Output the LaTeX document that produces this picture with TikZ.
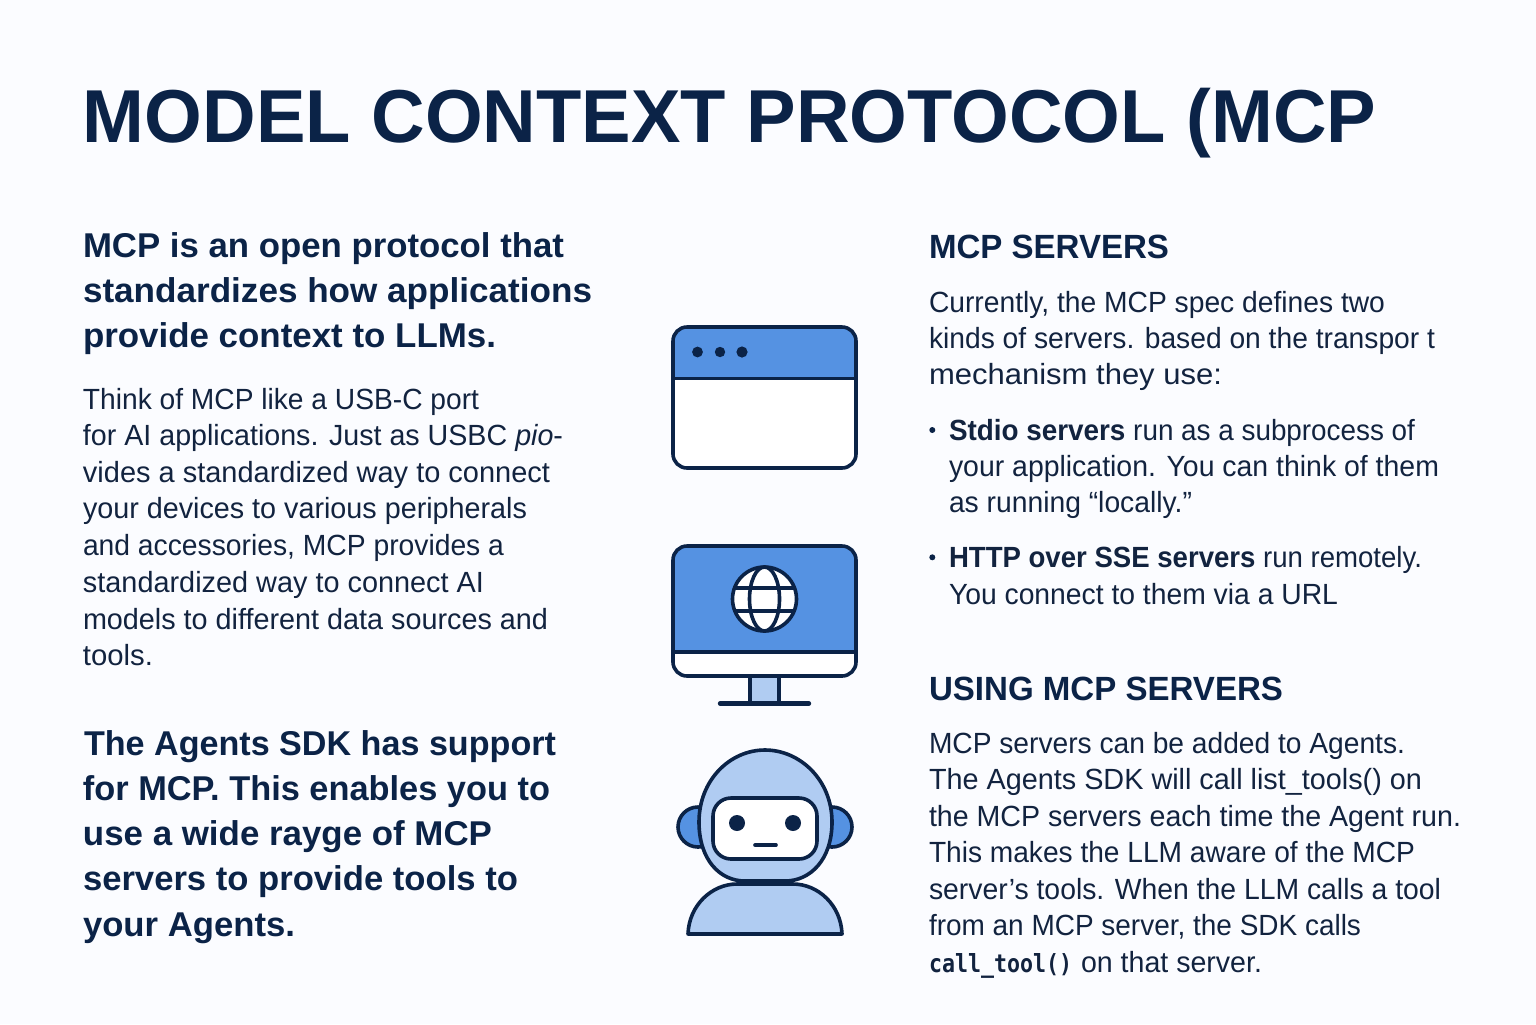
\documentclass[tikz,border=0pt]{standalone}
\usepackage{fontspec}
\usepackage{graphicx}
\setmainfont{Liberation Sans}
\newfontfamily\codefont{DejaVu Sans Mono}
\definecolor{ink}{HTML}{0B2347}
\definecolor{bodyink}{HTML}{12233F}
\definecolor{paper}{HTML}{FBFCFF}
\definecolor{midblue}{HTML}{5592E2}
\definecolor{paleblue}{HTML}{B0CCF2}
\newdimen\pxu \pxu=0.5pt
\newcommand\tline[6]{\node[anchor=base west,inner sep=0pt,outer sep=0pt,text=#5] (#1) at (#2,#3) {\resizebox{#4\pxu}{\height}{#6}};}
\newcommand\fTitle{\fontsize{37.5}{37.5}\selectfont\bfseries}
\newcommand\fHead{\fontsize{17.2}{17.2}\selectfont\bfseries}
\newcommand\fSec{\fontsize{16.8}{16.8}\selectfont\bfseries}
\newcommand\fBody{\fontsize{14.6}{14.6}\selectfont}
\tikzset{icon/.style={draw=ink,line width=1.8pt,line join=round,line cap=round}}
\begin{document}
\begin{tikzpicture}[x=0.5pt,y=-0.5pt]
\useasboundingbox (0,0) rectangle (1536,1024);
\fill[paper] (0,0) rectangle (1536,1024);
% title
\tline{title}{83}{142.5}{1293}{ink}{\fTitle MODEL CONTEXT PROTOCOL (MCP}
% left column
\tline{la}{83}{257.3}{481}{ink}{\fHead MCP is an open protocol that}
\tline{lb}{83}{302.5}{509}{ink}{\fHead standardizes how applications}
\tline{lc}{83}{347.5}{413}{ink}{\fHead provide context to LLMs.}
\tline{ba}{83}{409}{396}{bodyink}{\fBody Think of MCP like a USB-C port}
\tline{bb}{83}{445}{480}{bodyink}{\fBody for AI applications. Just as USBC \textit{pio}-}
\tline{bc}{83}{482}{467}{bodyink}{\fBody vides a standardized way to connect}
\tline{bd}{83}{518.5}{444}{bodyink}{\fBody your devices to various peripherals}
\tline{be}{83}{555}{421}{bodyink}{\fBody and accessories, MCP provides a}
\tline{bf}{83}{592}{401}{bodyink}{\fBody standardized way to connect AI}
\tline{bg}{83}{629}{465}{bodyink}{\fBody models to different data sources and}
\tline{bh}{83}{665}{70}{bodyink}{\fBody tools.}
\tline{ma}{84}{755}{472}{ink}{\fHead The Agents SDK has support}
\tline{mb}{83}{800}{467}{ink}{\fHead for MCP. This enables you to}
\tline{mc}{83}{845}{409}{ink}{\fHead use a wide rayge of MCP}
\tline{md}{83}{890.5}{435}{ink}{\fHead servers to provide tools to}
\tline{me}{83}{936}{212}{ink}{\fHead your Agents.}
% right column
\tline{ra}{929}{258.5}{240}{ink}{\fSec MCP SERVERS}
\tline{rb}{929}{312}{456}{bodyink}{\fBody Currently, the MCP spec defines two}
\tline{rc}{929}{348}{506}{bodyink}{\fBody kinds of servers. based on the transpor t}
\tline{rd}{929}{384.5}{293}{bodyink}{\fBody mechanism they use:}
\fill[ink] (932.3,430) circle (1.5pt);
\tline{re}{949}{440}{466}{bodyink}{\fBody \textbf{Stdio servers} run as a subprocess of}
\tline{rf}{949}{476}{490}{bodyink}{\fBody your application. You can think of them}
\tline{rg}{949}{512.5}{243}{bodyink}{\fBody as running “locally.”}
\fill[ink] (932.3,557.3) circle (1.5pt);
\tline{rh}{949}{567.5}{473}{bodyink}{\fBody \textbf{HTTP over SSE servers} run remotely.}
\tline{ri}{949}{604}{389}{bodyink}{\fBody You connect to them via a URL}
\tline{rj}{929}{700}{354}{ink}{\fSec USING MCP SERVERS}
\tline{rk}{929}{753}{476}{bodyink}{\fBody MCP servers can be added to Agents.}
\tline{rl}{929}{789.5}{493}{bodyink}{\fBody The Agents SDK will call list\_tools() on}
\tline{rm}{929}{826}{532}{bodyink}{\fBody the MCP servers each time the Agent run.}
\tline{rn}{929}{862.5}{486}{bodyink}{\fBody This makes the LLM aware of the MCP}
\tline{ro}{929}{899}{512}{bodyink}{\fBody server’s tools. When the LLM calls a tool}
\tline{rp}{929}{935.5}{432}{bodyink}{\fBody from an MCP server, the SDK calls}
\tline{rq}{929}{972.5}{143}{bodyink}{\fontsize{12.5}{12.5}\codefont\bfseries call\_tool()}
\tline{rr}{1081}{972.5}{181}{bodyink}{\fBody on that server.}
% browser window icon
\fill[white,rounded corners=7pt] (673,327) rectangle (856,468);
\begin{scope}
\clip[rounded corners=7pt] (673,327) rectangle (856,468);
\fill[midblue] (673,327) rectangle (856,378);
\end{scope}
\draw[icon] (673,378.5) -- (856,378.5);
\draw[icon,rounded corners=7pt] (673,327) rectangle (856,468);
\fill[ink] (697.5,352) circle (2.7pt) (720,352) circle (2.6pt) (742,352) circle (2.8pt);
% monitor icon
\fill[paleblue] (750,677) rectangle (779,703);
\draw[icon] (750,677) -- (750,703) (779,677) -- (779,703);
\draw[icon,line width=2.2pt] (720,703.5) -- (809,703.5);
\fill[white,rounded corners=7pt] (673,546) rectangle (856,676);
\begin{scope}
\clip[rounded corners=7pt] (673,546) rectangle (856,676);
\fill[midblue] (673,546) rectangle (856,652);
\end{scope}
\draw[icon] (673,652) -- (856,652);
\draw[icon,rounded corners=7pt] (673,546) rectangle (856,676);
\fill[white] (764.5,599) circle (16pt);
\begin{scope}
\clip (764.5,599) circle (16pt);
\draw[icon] (730,588) -- (800,588) (730,611) -- (800,611);
\end{scope}
\draw[icon] (764.5,599) ellipse (7.5pt and 16pt);
\draw[icon] (764.5,599) circle (16pt);
% robot icon
\draw[icon,fill=midblue] (698,827) circle (10pt);
\draw[icon,fill=midblue] (832,827) circle (10pt);
\draw[icon,fill=paleblue] (688,934) .. controls (689,905) and (712,884) .. (737,884) -- (793,884) .. controls (818,884) and (841,905) .. (842,934) -- cycle;
\draw[icon,fill=paleblue] (699,822) .. controls (699,780) and (730,750) .. (765,750) .. controls (800,750) and (832,780) .. (832,822) .. controls (832,860) and (810,881) .. (785,881) -- (745,881) .. controls (720,881) and (699,860) .. (699,822) -- cycle;
\draw[icon,fill=white,rounded corners=9pt] (713,798) rectangle (817,859);
\fill[ink] (737,823) circle (4pt) (793,823) circle (4pt);
\draw[icon] (755,845) -- (776,845);
\end{tikzpicture}
\end{document}
